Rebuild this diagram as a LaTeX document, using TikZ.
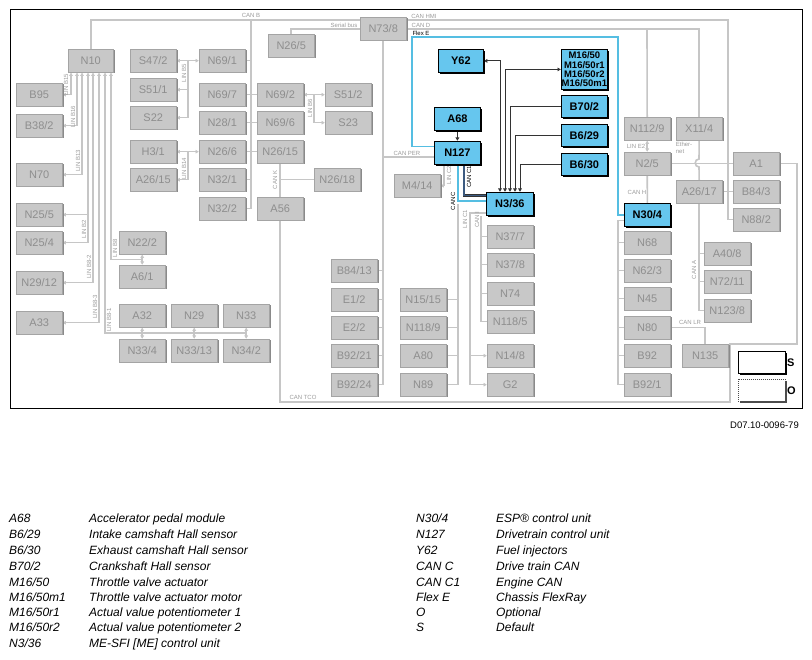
\documentclass[tikz,border=0pt]{standalone}
\usepackage{fontspec}
\setmainfont{Liberation Sans}
\usetikzlibrary{arrows.meta,shadows,calc,backgrounds}
\definecolor{gfill}{HTML}{C8C8C8}
\definecolor{gdraw}{HTML}{A4A4A4}
\definecolor{gshad}{HTML}{8A8A8A}
\definecolor{gtext}{HTML}{8E8E8E}
\definecolor{gline}{HTML}{C6C6C6}
\definecolor{bfill}{HTML}{66C6EE}
\definecolor{flexc}{HTML}{55BEE2}
\definecolor{labc}{HTML}{9C9C9C}
\definecolor{c1col}{HTML}{3C5A80}
\tikzset{
 gbox/.style={draw=gdraw, fill=gfill, text=gtext, minimum width=46pt, minimum height=23pt, inner sep=0pt, anchor=north west, font=\fontsize{11}{12}\selectfont, drop shadow={shadow xshift=1.3pt, shadow yshift=-1.3pt, fill=gshad, opacity=1}},
 bbox/.style={draw=black, line width=0.8pt, fill=bfill, text=black, minimum width=46pt, minimum height=23pt, inner sep=0pt, anchor=north west, font=\bfseries\fontsize{11}{12}\selectfont, drop shadow={shadow xshift=1.6pt, shadow yshift=-1.6pt, fill=black, opacity=1}},
 gl/.style={draw=gline, line width=1.6pt},
 lab/.style={text=labc, font=\fontsize{6}{6.5}\selectfont, inner sep=0.5pt},
 vlab/.style={lab, rotate=90},
 dl/.style={draw=black!80, line width=0.9pt},
 flexl/.style={draw=flexc, line width=1.6pt},
 canc/.style={draw=black!70, line width=0.45pt, double=flexc, double distance=1.5pt},
 canc1/.style={draw=black!80, line width=0.45pt, double=c1col, double distance=1.4pt},
 leg/.style={anchor=west, font=\itshape\fontsize{12}{14}\selectfont, inner sep=0pt, text height=9pt, text depth=2.5pt},
 >={Latex[length=3.5pt,width=4.2pt]}
}
\begin{document}
\begin{tikzpicture}[x=1pt,y=-1pt]
\useasboundingbox (0,0) rectangle (812,660);
% ---------- boxes ----------
\node[gbox, minimum width=45pt] (n10) at (68,49) {N10};
\node[gbox] (b95) at (16,83) {B95};
\node[gbox] (b38) at (16,114) {B38/2};
\node[gbox] (n70) at (16,163) {N70};
\node[gbox] (n25x5) at (16,203) {N25/5};
\node[gbox] (n25x4) at (16,231) {N25/4};
\node[gbox] (n29x12) at (16,271) {N29/12};
\node[gbox] (a33) at (16,311) {A33};
\node[gbox] (s47) at (130,49) {S47/2};
\node[gbox] (s51x1) at (130,78) {S51/1};
\node[gbox] (s22) at (130,106) {S22};
\node[gbox] (h3) at (130,140) {H3/1};
\node[gbox] (a26x15) at (130,168) {A26/15};
\node[gbox] (n22) at (119,231) {N22/2};
\node[gbox] (a6) at (119,265) {A6/1};
\node[gbox] (a32) at (119,304) {A32};
\node[gbox] (n33x4) at (119,339) {N33/4};
\node[gbox] (n29) at (171,304) {N29};
\node[gbox] (n33x13) at (171,339) {N33/13};
\node[gbox] (n33) at (223,304) {N33};
\node[gbox] (n34) at (223,339) {N34/2};
\node[gbox] (n69x1) at (199,49) {N69/1};
\node[gbox] (n69x7) at (199,83) {N69/7};
\node[gbox] (n28) at (199,111) {N28/1};
\node[gbox] (n26x6) at (199,140) {N26/6};
\node[gbox] (n32x1) at (199,168) {N32/1};
\node[gbox] (n32x2) at (199,197) {N32/2};
\node[gbox] (n69x2) at (257,83) {N69/2};
\node[gbox] (n69x6) at (257,111) {N69/6};
\node[gbox] (n26x15) at (257,140) {N26/15};
\node[gbox] (a56) at (257,197) {A56};
\node[gbox] (n26x18) at (314,168) {N26/18};
\node[gbox] (s51x2) at (325,83) {S51/2};
\node[gbox] (s23) at (325,111) {S23};
\node[gbox] (n26x5) at (268,34) {N26/5};
\node[gbox] (n73) at (360,17) {N73/8};
\node[gbox] (b8413) at (331,259) {B84/13};
\node[gbox] (e1) at (331,288) {E1/2};
\node[gbox] (e2) at (331,316) {E2/2};
\node[gbox] (b9221) at (331,344) {B92/21};
\node[gbox] (b9224) at (331,373) {B92/24};
\node[gbox] (n15) at (400,288) {N15/15};
\node[gbox] (n118x9) at (400,316) {N118/9};
\node[gbox] (a80) at (400,344) {A80};
\node[gbox] (n89) at (400,373) {N89};
\node[gbox] (m4) at (394,174) {M4/14};
\node[bbox, minimum width=45pt] (y62) at (438,49) {Y62};
\node[bbox] (a68) at (434,107) {A68};
\node[bbox] (n127) at (434,141) {N127};
\node[bbox, minimum width=47pt] (n336) at (486,192) {N3/36};
\node[gbox] (n37x7) at (487,225) {N37/7};
\node[gbox] (n37x8) at (487,253) {N37/8};
\node[gbox] (n74) at (487,282) {N74};
\node[gbox] (n1185) at (487,310) {N118/5};
\node[gbox] (n148) at (487,344) {N14/8};
\node[gbox] (g2) at (487,373) {G2};
\node[bbox, minimum height=40pt, align=center, font=\bfseries\fontsize{9.5}{9.2}\selectfont] (m16) at (561,49) {M16/50\\M16/50r1\\M16/50r2\\M16/50m1};
\node[bbox, minimum height=22pt] (b70) at (561,95) {B70/2};
\node[bbox, minimum height=22pt] (b629) at (561,124) {B6/29};
\node[bbox, minimum height=22pt] (b630) at (561,153) {B6/30};
\node[gbox] (n112) at (624,117) {N112/9};
\node[gbox] (n2x5) at (624,152) {N2/5};
\node[bbox] (n304) at (624,203) {N30/4};
\node[gbox] (n68) at (624,231) {N68};
\node[gbox] (n623) at (624,259) {N62/3};
\node[gbox] (n45) at (624,287) {N45};
\node[gbox] (n80) at (624,316) {N80};
\node[gbox] (b92) at (624,344) {B92};
\node[gbox] (b921) at (624,373) {B92/1};
\node[gbox] (x114) at (676,117) {X11/4};
\node[gbox] (a2617) at (676,180) {A26/17};
\node[gbox] (n135) at (682,344) {N135};
\node[gbox] (a1) at (733,152) {A1};
\node[gbox] (b843) at (733,180) {B84/3};
\node[gbox] (n882) at (733,208) {N88/2};
\node[gbox] (a408) at (704,242) {A40/8};
\node[gbox] (n7211) at (704,270) {N72/11};
\node[gbox] (n1238) at (704,299) {N123/8};
% legend boxes
\node[draw=black, line width=0.8pt, fill=white, minimum width=47pt, minimum height=22pt, inner sep=0pt, anchor=north west, drop shadow={shadow xshift=1.6pt, shadow yshift=-1.6pt, fill=black, opacity=1}] (legs) at (738,351) {};
\node[font=\bfseries\fontsize{11}{12}\selectfont, anchor=west, inner sep=0pt] (legstxt) at (787,363) {S};
\node[draw=black!70, dash pattern=on 1pt off 1pt, line width=0.6pt, fill=white, minimum width=47pt, minimum height=22pt, inner sep=0pt, anchor=north west, drop shadow={shadow xshift=1.4pt, shadow yshift=-1.4pt, fill=black!70, opacity=1}] (lego) at (738,379) {};
\node[font=\bfseries\fontsize{11}{12}\selectfont, anchor=west, inner sep=0pt] (legotxt) at (787,391) {O};
% ---------- labels ----------
\node[lab] (lcanb) at (251,15) {CAN B};
\node[lab] (lser) at (344,25) {Serial bus};
\node[lab] (lhmi) at (424,16) {CAN HMI};
\node[lab] (lcand) at (421,25) {CAN D};
\node[lab, text=black] (lflex) at (421,33.5) {Flex E};
\node[lab] (lper) at (407,153) {CAN PER};
\node[vlab] (lcank) at (275,180) {CAN K};
\node[vlab] (lcana) at (694,270) {CAN A};
\node[lab] (lcanh) at (637,192) {CAN H};
\node[lab] (line2) at (636,146) {LIN E2};
\node[lab, align=left] (leth) at (684,148) {Ether-\\net};
\node[lab] (llr) at (690,322) {CAN LR};
\node[lab] (ltco) at (303,397) {CAN TCO};
\node[vlab] (linc2) at (449,175) {LIN C2};
\node[vlab, text=black] (lcanc1) at (469,177) {CAN C1};
\node[vlab, text=black] (lcanc) at (453,201) {CAN C};
\node[vlab] (linc1) at (465,219) {LIN C1};
\node[vlab] (lcani) at (477,220) {CAN I};
\node[vlab] (lb15) at (66,85) {LIN B15};
\node[vlab] (lb16) at (73,117) {LIN B16};
\node[vlab] (lb13) at (78,161) {LIN B13};
\node[vlab] (lb2) at (84,229) {LIN B2};
\node[vlab] (lb82) at (89,267) {LIN B8-2};
\node[vlab] (lb83) at (95,307) {LIN B8-3};
\node[vlab] (lb81) at (109,320) {LIN B8-1};
\node[vlab] (lb8) at (115,248) {LIN B8};
\node[vlab] (lb5) at (184,73) {LIN B5};
\node[vlab] (lb14) at (184,169) {LIN B14};
\node[vlab] (lb6) at (310,108) {LIN B6};
% ---------- connectors ----------
\begin{scope}[on background layer]
\fill[white] (0,0) rectangle (812,660);
% CAN B
\draw[gl] (n10.north) |- (n73.west |- 0,20);
\draw[gl] (251,20) |- (n32x2.east);
\foreach \n in {n69x1,n69x7,n28,n26x6,n32x1} \draw[gl] (\n.east) -- (251,0 |- \n.east);
\foreach \n in {n69x2,n69x6,n26x15} \draw[gl] (\n.west) -- (251,0 |- \n.west);
% serial bus
\draw[gl] (n26x5.north) |- (n73.west |- 0,29);
% CAN HMI
\draw[gl] (n73.east |- 0,20) -| (728,0 |- n882.west) -- (n882.west);
% CAN D
\draw[gl] (n73.east |- 0,29) -| (x114.north);
\draw[gl] (647,29) -- (n112.north);
% Ethernet with hop
\draw[gl] (x114.south) -- (699,159) .. controls (694,159) and (694,167) .. (699,167) -- (a2617.north);
\draw[gl] (n2x5.east) -- (a1.west);
\draw[gl] (a2617.east) -- (b843.west);
% CAN A
\draw[gl] (a2617.south) |- (n1238.west);
\foreach \n in {a408,n7211} \draw[gl] (\n.west) -- (699,0 |- \n.west);
% LIN E2, CAN H
\draw[gl,<->] (n112.south) -- (n2x5.north);
\draw[gl] (n2x5.south) -- (n304.north);
% column under N30/4
\draw[gl] ($(n304.west)+(0,5.5)$) -- ++(-6,0) |- (b921.west);
\foreach \n in {n68,n623,n45,n80,b92} \draw[gl] (\n.west) -- (618,0 |- \n.west);
% CAN LR
\draw[gl] (n80.east) -| (n135.north);
% A1 / CAN TCO
\draw[gl] (a1.east) -| (797,344) -| (730,402) -| (a56.south);
% CAN PER
\draw[gl] (n73.south) |- (b9224.east);
\draw[gl] (383,157) -- (n127.west |- 0,157);
\foreach \n in {b8413,e1,e2,b9221} \draw[gl] (\n.east) -- (383,0 |- \n.east);
% CAN K
\draw[gl] (n26x15.south) -- (a56.north);
\draw[gl] (n26x18.west) -- (280,0 |- n26x18.west);
% LIN B6
\draw[gl,<->] (n69x2.east) -- (s51x2.west);
\draw[gl,->] (314,0 |- n69x2.east) |- (s23.west);
% LIN B5
\draw[gl,<->] (s47.east) -- (n69x1.west);
\draw[gl,->] (188,0 |- s47.east) |- (s22.east);
\draw[gl,->] (188,0 |- s51x1.east) -- (s51x1.east);
% LIN B14
\draw[gl,<->] (h3.east) -- (n26x6.west);
\draw[gl,->] (188,0 |- h3.east) |- (a26x15.east);
% N10 LIN lines
\draw[gl,<->] (71,0 |- n10.south) |- (b95.east);
\draw[gl,<->] (77,0 |- n10.south) |- (b38.east);
\draw[gl,<->] (82,0 |- n10.south) |- (n70.east);
\draw[gl,<->] (88,0 |- n10.south) |- (n25x4.east);
\draw[gl,->] (88,0 |- n25x5.east) -- (n25x5.east);
\draw[gl,<->] (93,0 |- n10.south) |- (n29x12.east);
\draw[gl,<->] (99,0 |- n10.south) |- (a33.east);
\draw[gl,<-] (105,0 |- n10.south) |- (n34.south |- 0,333);
\foreach \a/\b in {a32/n33x4,n29/n33x13,n33/n34} \draw[gl,<->] (\a.south) -- (\b.north);
\draw[gl,<-] (111,0 |- n10.south) |- (n22.south |- 0,259.5);
\draw[gl,<->] (n22.south) -- (a6.north);
% dark signal lines
\draw[dl,<->] (y62.east) -| ($(n336.north west)+(14,0)$);
\draw[dl,<->] (m16.west) -| ($(n336.north west)+(19,0)$);
\draw[dl,->] (b70.west) -| ($(n336.north west)+(24,0)$);
\draw[dl,->] (b629.west) -| ($(n336.north west)+(29,0)$);
\draw[dl,->] (b630.west) -| ($(n336.north west)+(34,0)$);
\draw[dl,->] (a68.south) -- (n127.north);
% Flex E
\draw[flexl] ($(n127.west)+(0,-6.5)$) -| (412,37) -| ($(n304.west)+(-6,0)$) -- (n304.west);
% CAN C (gray part)
\draw[gl] (458,204) |- (n89.east);
\foreach \n in {n15,n118x9,a80} \draw[gl] (\n.east) -- (458,0 |- \n.east);
% LIN C2
\draw[gl,->] (444,0 |- n127.south) |- (m4.east);
% LIN C1
\draw[gl,->] ($(n336.west)+(0,9)$) -| (470,0 |- g2.west) -- (g2.west);
\draw[gl,->] (470,0 |- n148.west) -- (n148.west);
% CAN I
\draw[gl] (481,0 |- n336.south) |- (n1185.west);
\foreach \n in {n37x7,n37x8,n74} \draw[gl] (\n.west) -- (481,0 |- \n.west);
% CAN C, CAN C1 highlighted
\draw[canc] (458,0 |- n127.south) |- (n336.west |- 0,201);
\draw[canc1] (464,0 |- n127.south) |- (n336.west |- 0,195.5);
\end{scope}
% frame
\draw[black, line width=0.9pt] (10,9) rectangle (802,408);
% ---------- legend text ----------
\node[anchor=east, font=\fontsize{9.5}{11}\selectfont, inner sep=0pt] (docno) at (799,425) {D07.10-0096-79};
\node[leg] (k1) at (9,519) {A68};
\node[leg] (t1) at (89,519) {Accelerator pedal module};
\node[leg] (k2) at (9,535) {B6/29};
\node[leg] (t2) at (89,535) {Intake camshaft Hall sensor};
\node[leg] (k3) at (9,551) {B6/30};
\node[leg] (t3) at (89,551) {Exhaust camshaft Hall sensor};
\node[leg] (k4) at (9,567) {B70/2};
\node[leg] (t4) at (89,567) {Crankshaft Hall sensor};
\node[leg] (k5) at (9,583) {M16/50};
\node[leg] (t5) at (89,583) {Throttle valve actuator};
\node[leg] (k6) at (9,598) {M16/50m1};
\node[leg] (t6) at (89,598) {Throttle valve actuator motor};
\node[leg] (k7) at (9,613) {M16/50r1};
\node[leg] (t7) at (89,613) {Actual value potentiometer 1};
\node[leg] (k8) at (9,628) {M16/50r2};
\node[leg] (t8) at (89,628) {Actual value potentiometer 2};
\node[leg] (k9) at (9,644) {N3/36};
\node[leg] (t9) at (89,644) {ME-SFI [ME] control unit};
\node[leg] (r1) at (416,519) {N30/4};
\node[leg] (u1) at (496,519) {ESP® control unit};
\node[leg] (r2) at (416,535) {N127};
\node[leg] (u2) at (496,535) {Drivetrain control unit};
\node[leg] (r3) at (416,551) {Y62};
\node[leg] (u3) at (496,551) {Fuel injectors};
\node[leg] (r4) at (416,567) {CAN C};
\node[leg] (u4) at (496,567) {Drive train CAN};
\node[leg] (r5) at (416,583) {CAN C1};
\node[leg] (u5) at (496,583) {Engine CAN};
\node[leg] (r6) at (416,598) {Flex E};
\node[leg] (u6) at (496,598) {Chassis FlexRay};
\node[leg] (r7) at (416,613) {O};
\node[leg] (u7) at (496,613) {Optional};
\node[leg] (r8) at (416,628) {S};
\node[leg] (u8) at (496,628) {Default};
\end{tikzpicture}
\end{document}
